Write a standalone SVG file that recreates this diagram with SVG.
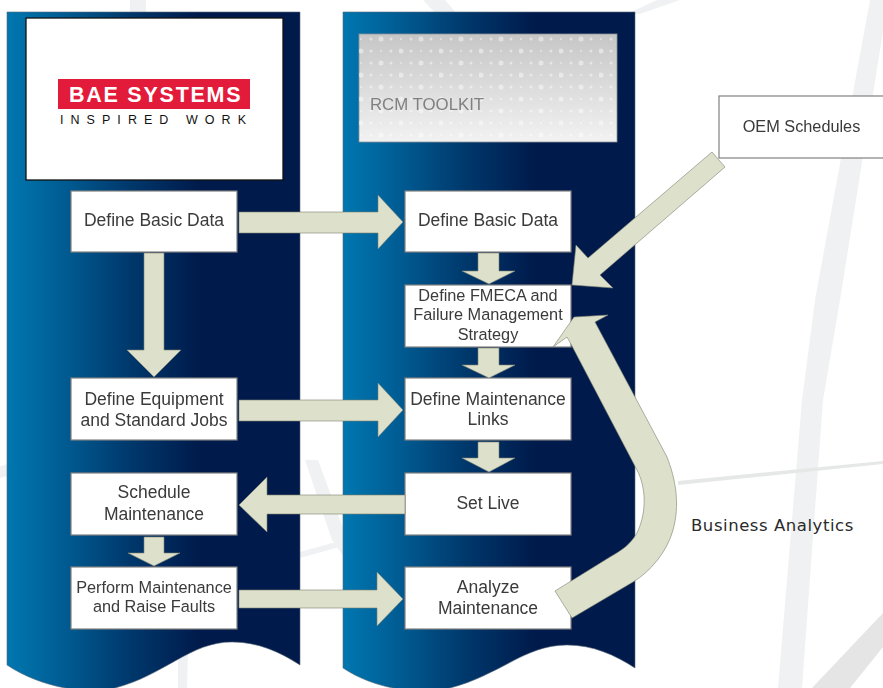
<svg xmlns="http://www.w3.org/2000/svg" width="883" height="688" viewBox="0 0 883 688">
<style>
.bg{fill:#f0f1f2;stroke:none}
.panel{fill:url(#pg);stroke:#5a6a7a;stroke-width:.6}
.box{fill:#fff;stroke:#808080;stroke-width:1.2}
.arr{fill:#dde1cb;stroke:#7c7f70;stroke-width:.6;stroke-linejoin:miter}
.t{font-family:"Liberation Sans",Arial,sans-serif;font-size:17.5px;fill:#3a3a3a;text-anchor:middle;filter:url(#soft)}
.t2{font-size:16.3px}
</style>
<defs>
<linearGradient id="pg" x1="0" y1="0" x2="1" y2="0">
<stop offset="0" stop-color="#0077b0"/><stop offset=".18" stop-color="#005e95"/><stop offset=".42" stop-color="#00386c"/><stop offset=".66" stop-color="#001a4b"/><stop offset="1" stop-color="#001a4b"/>
</linearGradient>
<linearGradient id="tg" x1="0" y1="0" x2="0" y2="1">
<stop offset="0" stop-color="#c6c6c6"/><stop offset="1" stop-color="#f2f2f2"/>
</linearGradient>
<pattern id="flower" width="40" height="24" patternUnits="userSpaceOnUse" x="359" y="34">
<g fill="#fff" fill-opacity=".45">
<circle cx="22" cy="5" r="2.500"/><circle cx="2" cy="17" r="2.500"/>
<circle cx="12" cy="5" r="1.500"/><circle cx="32" cy="5" r="1.500"/><circle cx="12" cy="17" r="1.500"/><circle cx="32" cy="17" r="1.500"/>
<circle cx="22" cy="17" r="1"/><circle cx="2" cy="5" r="1"/>
</g>
</pattern>
<filter id="soft" x="-5%" y="-20%" width="110%" height="140%"><feGaussianBlur stdDeviation=".4"/></filter>
<filter id="softer" x="0" y="0" width="100%" height="100%"><feGaussianBlur stdDeviation=".7"/></filter>
</defs>
<rect width="883" height="688" fill="#fff"/>
<g id="background">
<path class="bg" d="M130 0H146V14H130ZM423 0H445L457 14H436ZM627 14 657 0H680L640 14ZM870 0H888L840 300 823 400 802 688H778L802 400 815 300Z"/>
<path class="bg" d="M305 460H318L343 528V556L332 540Z"/>
<path class="bg" d="M300 552 343 540V546L300 558ZM178 652H188L187 688H178ZM0 466 8 464V476L0 478Z"/>
<path fill="#e6e7e7" d="M678 481 883 461V464L678 485Z"/>
<path fill="#e5e5e5" d="M812 688 883 613V647L850 688Z"/>
</g>
<g id="panels">
<path id="panel-left" class="panel" d="M7 12H300V665C280 652 258 642 232 642C190 642 165 675 115 688C85 695 40 687 7 665Z"/>
<path id="panel-right" class="panel" d="M343 12H635V668C615 655 593 645 567 645C525 645 500 675 450 688C420 695 376 690 343 668Z"/>
</g>
<g id="logo">
<rect x="26" y="18" width="257" height="162" fill="#fff" stroke="#111" stroke-width="1.3"/>
<rect x="58" y="79" width="192" height="30" fill="#e31b3a"/>
<text x="69" y="101.500" font-family="'Liberation Sans',Arial,sans-serif" font-weight="700" font-size="21.500" letter-spacing="1.750" fill="#fff">BAE SYSTEMS</text>
<text x="60" y="124" font-family="'Liberation Sans',Arial,sans-serif" font-size="12.500" letter-spacing="7.050" fill="#111">INSPIRED WORK</text>
</g>
<g id="toolkit">
<rect x="359" y="34" width="258" height="108" fill="url(#tg)" stroke="#8d9499" stroke-width=".8"/>
<rect x="359" y="34" width="258" height="108" fill="url(#flower)" filter="url(#softer)"/>
<text class="t" style="text-anchor:start;fill:#808080;font-size:16.800px" x="370" y="110">RCM TOOLKIT</text>
</g>
<g id="oem"><rect class="box" x="719" y="96" width="170" height="62"/><text class="t" x="801.500" y="132" style="font-size:16.300px">OEM Schedules</text></g>
<g id="l1"><rect class="box" x="71" y="191" width="166" height="61"/><text class="t" x="154" y="226">Define Basic Data</text></g>
<g id="l2"><rect class="box" x="71" y="378" width="166" height="62"/><text class="t" x="154" y="405">Define Equipment</text><text class="t" x="154" y="426">and Standard Jobs</text></g>
<g id="l3"><rect class="box" x="71" y="473" width="166" height="62"/><text class="t" x="154" y="498">Schedule</text><text class="t" x="154" y="520">Maintenance</text></g>
<g id="l4"><rect class="box" x="71" y="567" width="166" height="62"/><text class="t t2" x="154" y="593">Perform Maintenance</text><text class="t t2" x="154" y="612">and Raise Faults</text></g>
<g id="r1"><rect class="box" x="405" y="191" width="166" height="61"/><text class="t" x="488" y="226">Define Basic Data</text></g>
<g id="r2"><rect class="box" x="405" y="285" width="166" height="62"/><text class="t t2" x="488" y="301">Define FMECA and</text><text class="t t2" x="488" y="320">Failure Management</text><text class="t t2" x="488" y="340">Strategy</text></g>
<g id="r3"><rect class="box" x="405" y="378" width="166" height="62"/><text class="t" x="488" y="405">Define Maintenance</text><text class="t" x="488" y="425">Links</text></g>
<g id="r4"><rect class="box" x="405" y="473" width="166" height="62"/><text class="t" x="488" y="509">Set Live</text></g>
<g id="r5"><rect class="box" x="405" y="567" width="166" height="62"/><text class="t" x="488" y="593">Analyze</text><text class="t" x="488" y="614">Maintenance</text></g>
<g id="connectors">
<polygon class="arr" points="239,212 378,212 378,195 403,222 378,249 378,233 239,233"/>
<polygon class="arr" points="144,253 164,253 164,350 181,350 154,377 127,350 144,350"/>
<polygon class="arr" points="239,400 378,400 378,383 403,410 378,437 378,421 239,421"/>
<polygon class="arr" points="405,495 267,495 267,477 239,505 267,532 267,514 405,514"/>
<polygon class="arr" points="239,590 377,590 377,572 403,599 377,626 377,608 239,608"/>
<polygon class="arr" points="144,537 164,537 164,553 180,553 154,566 128,553 144,553"/>
<polygon class="arr" points="478,253 499,253 499,271 515,271 489,284 462,271 478,271"/>
<polygon class="arr" points="478,348 499,348 499,365 515,365 489,378 462,365 478,365"/>
<polygon class="arr" points="478,442 499,442 499,458 515,458 489,472 462,458 478,458"/>
<polygon class="arr" points="712,152 725,167 600,275 613,288 572,285 576,245 588,258"/>
<path class="arr" d="M555 591 572 618 633 582C650 572 667 552 673 530C680 505 676 480 667 457L595 322 608 315 574 317 553 347 567 337 572 346 637 470C645 485 648 510 637 533C630 545 622 550 610 557Z"/>
</g>
<text id="business-analytics" x="691" y="531" font-family="'DejaVu Sans',sans-serif" font-size="16.500" letter-spacing=".55" fill="#2a2a2a">Business Analytics</text>
</svg>
